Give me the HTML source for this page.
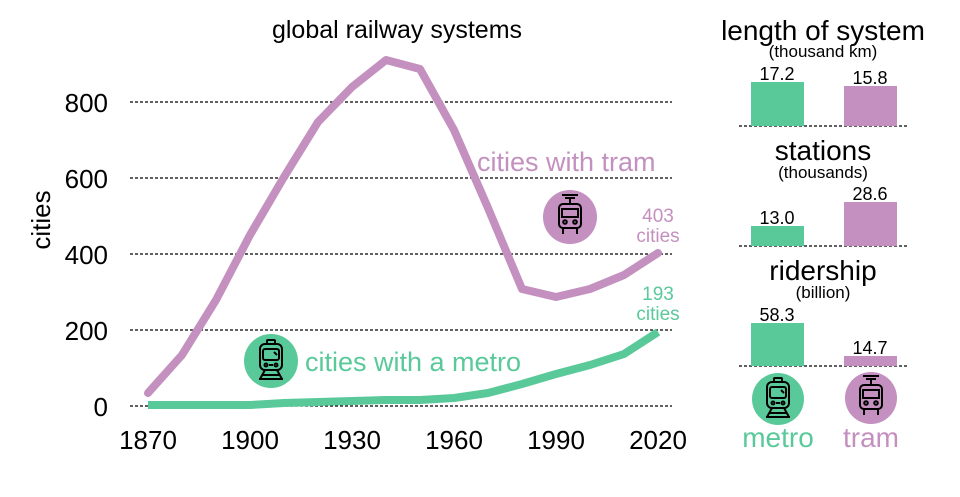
<!DOCTYPE html>
<html><head><meta charset="utf-8"><style>body{margin:0;background:#fff}svg{display:block;font-family:"Liberation Sans",sans-serif}</style></head><body>
<svg width="960" height="497" viewBox="0 0 960 497">
<defs>
<g id="metroI" fill="none" stroke="#000" stroke-width="2">
<rect x="-11" y="-17" width="22" height="26" rx="5"/><rect x="-8" y="-12" width="16" height="11" rx="2"/><rect x="-4" y="-21" width="8" height="4" rx="1"/>
<circle cx="-5" cy="4" r="1.5"/><circle cx="5" cy="4" r="1.5"/><line x1="-2" y1="4" x2="2" y2="4"/>
<line x1="-6" y1="9" x2="-11" y2="18"/><line x1="6" y1="9" x2="11" y2="18"/><line x1="-9" y1="14" x2="9" y2="14"/><line x1="-12" y1="18" x2="12" y2="18"/><line x1="3" y1="-9" x2="6" y2="-6"/></g>
<g id="tramI" fill="none" stroke="#000" stroke-width="2">
<rect x="-11" y="-13" width="22" height="24" rx="4"/><rect x="-8" y="-8" width="16" height="8"/><line x1="-5" y1="-19" x2="5" y2="-19"/><line x1="0" y1="-19" x2="0" y2="-13"/><line x1="-8" y1="-22" x2="8" y2="-22"/>
<circle cx="-5" cy="5" r="1.8"/><circle cx="5" cy="5" r="1.8"/><line x1="-7" y1="11" x2="-7" y2="17"/><line x1="7" y1="11" x2="7" y2="17"/></g>
</defs>
<text x="397" y="38" font-size="25" text-anchor="middle">global railway systems</text>
<g stroke="#000" stroke-dasharray="3,2" stroke-width="1.2">
<line x1="130" y1="102" x2="672" y2="102"/><line x1="130" y1="178" x2="672" y2="178"/><line x1="130" y1="254" x2="672" y2="254"/><line x1="130" y1="330" x2="672" y2="330"/><line x1="130" y1="406" x2="672" y2="406"/>
<line x1="739" y1="126" x2="908" y2="126"/><line x1="739" y1="246" x2="908" y2="246"/><line x1="739" y1="366" x2="908" y2="366"/>
</g>
<g font-size="26" text-anchor="end"><text x="108" y="112">800</text><text x="108" y="188">600</text><text x="108" y="264">400</text><text x="108" y="340">200</text><text x="108" y="416">0</text></g>
<g font-size="26" text-anchor="middle"><text x="148" y="449">1870</text><text x="250" y="449">1900</text><text x="352" y="449">1930</text><text x="454" y="449">1960</text><text x="556" y="449">1990</text><text x="658" y="449">2020</text></g>
<text transform="translate(50,220) rotate(-90)" font-size="26" text-anchor="middle">cities</text>
<polyline fill="none" stroke="#c390bf" stroke-width="8" stroke-linejoin="round" stroke-linecap="round" points="148,393 182,355 216,300 250,235 284,177 318,122 352,87 386,60 420,69 454,130 488,208 522,289 556,297 590,289 624,275 658,253"/>
<polyline fill="none" stroke="#5ac99a" stroke-width="8" stroke-linejoin="round" points="148,405 250,405 284,403 318,402 352,401 386,400 420,400 454,398 488,393 522,384 556,374 590,365 624,354 658,332"/>
<text x="477" y="171" font-size="27" fill="#c390bf">cities with tram</text>
<text x="305" y="371" font-size="27" fill="#5ac99a">cities with a metro</text>
<g font-size="19" text-anchor="middle" fill="#c390bf"><text x="658" y="222">403</text><text x="658" y="242">cities</text></g>
<g font-size="19" text-anchor="middle" fill="#5ac99a"><text x="658" y="300">193</text><text x="658" y="320">cities</text></g>
<circle cx="570" cy="217" r="27" fill="#c390bf"/><use href="#tramI" x="570" y="217"/>
<circle cx="271" cy="361" r="27" fill="#5ac99a"/><use href="#metroI" x="271" y="361"/>
<g text-anchor="middle">
<text x="823" y="40" font-size="28">length of system</text><text x="823" y="57" font-size="17">(thousand km)</text>
<text x="823" y="160" font-size="28">stations</text><text x="823" y="178" font-size="17">(thousands)</text>
<text x="823" y="280" font-size="28">ridership</text><text x="823" y="298" font-size="17">(billion)</text>
</g>
<g fill="#5ac99a"><rect x="751" y="82" width="53" height="44"/><rect x="751" y="226" width="53" height="20"/><rect x="751" y="323" width="53" height="43"/></g>
<g fill="#c390bf"><rect x="844" y="86" width="53" height="40"/><rect x="844" y="202" width="53" height="44"/><rect x="844" y="356" width="53" height="10"/></g>
<g font-size="18" text-anchor="middle"><text x="777" y="80">17.2</text><text x="870" y="84">15.8</text><text x="777" y="224">13.0</text><text x="870" y="200">28.6</text><text x="777" y="321">58.3</text><text x="870" y="354">14.7</text></g>
<circle cx="778" cy="399" r="26" fill="#5ac99a"/><use href="#metroI" x="778" y="399"/>
<circle cx="871" cy="398" r="26" fill="#c390bf"/><use href="#tramI" x="871" y="398"/>
<text x="778" y="447" font-size="28" text-anchor="middle" fill="#5ac99a">metro</text>
<text x="871" y="447" font-size="28" text-anchor="middle" fill="#c390bf">tram</text>
</svg>
</body></html>
